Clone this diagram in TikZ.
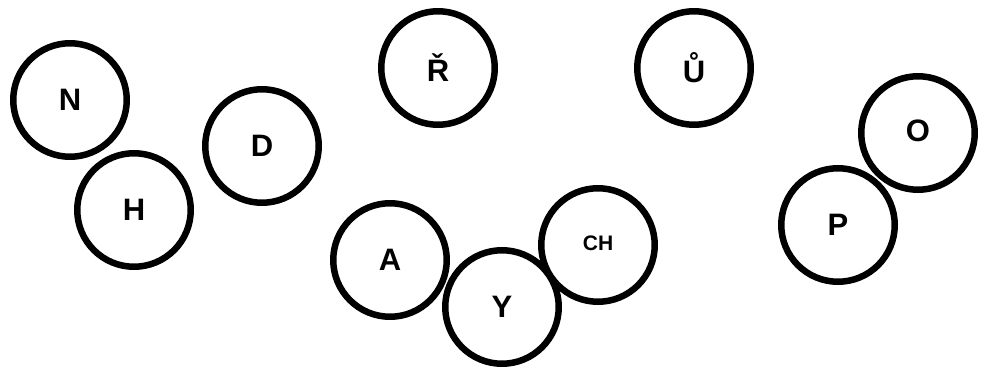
\documentclass[tikz,border=0pt]{standalone}
\usepackage{fontspec}
\setmainfont{Liberation Sans}
\begin{document}
\begin{tikzpicture}[x=1pt,y=1pt,
  ball/.style={circle,draw=black,line width=6.5pt,minimum size=113.5pt,inner sep=0pt,
    font=\fontsize{31}{31}\selectfont\bfseries},
  smallball/.style={ball,font=\fontsize{21}{21}\selectfont\bfseries}]
\useasboundingbox (0,0) rectangle (989,370);
\node[ball] (n) at (70,270) {N};
\node[ball] (h) at (134,160) {H};
\node[ball] (d) at (262,224) {D};
\node[ball] (r) at (438,302) {Ř};
\node[ball] (u) at (694,302) {Ů};
\node[ball] (o) at (918,237) {\raisebox{5pt}{O}};
\node[ball] (p) at (838,145) {P};
\node[ball] (a) at (390,110) {A};
\node[ball] (y) at (502,63) {Y};
\node[smallball] (ch) at (598,125) {\raisebox{3pt}{CH}};
\end{tikzpicture}
\end{document}
